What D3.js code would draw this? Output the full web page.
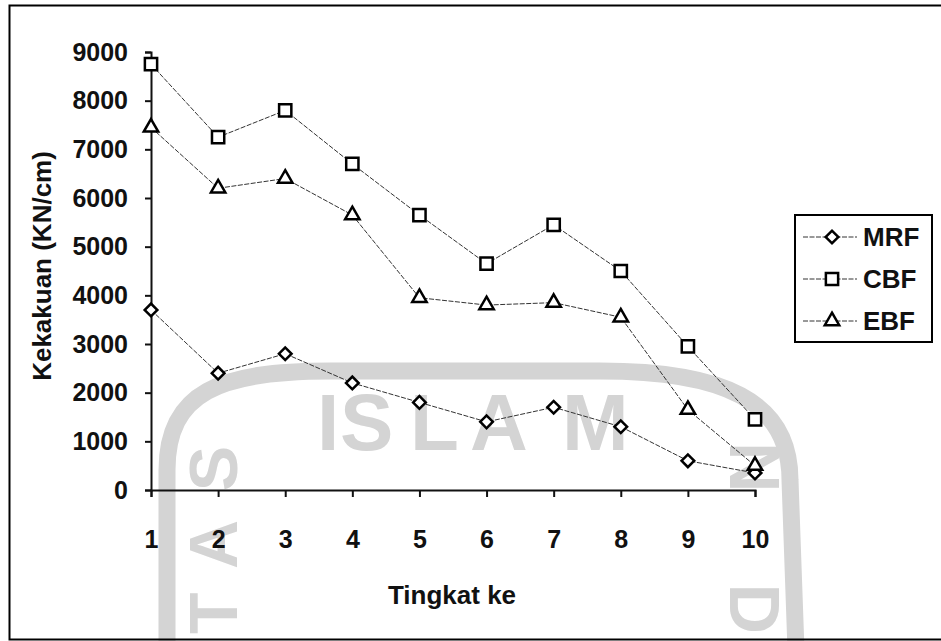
<!DOCTYPE html>
<html>
<head>
<meta charset="utf-8">
<script src="https://cdn.jsdelivr.net/npm/d3@7"></script>
<style>
  html, body { margin: 0; padding: 0; background: #fff; }
  svg { display: block; }
  text { font-family: Arial, "Liberation Sans", sans-serif; font-weight: bold; }
</style>
</head>
<body>
<svg id="chart" width="941" height="641"></svg>
<script>
// ---- data ----
const categories = [1, 2, 3, 4, 5, 6, 7, 8, 9, 10];
const mrf = [3700, 2400, 2800, 2200, 1800, 1400, 1700, 1300, 600, 350];
const cbf = [8750, 7250, 7800, 6700, 5650, 4650, 5450, 4500, 2950, 1450];
const ebf = [7450, 6200, 6400, 5650, 3950, 3800, 3850, 3550, 1650, 500];
const seriesNames = ["MRF", "CBF", "EBF"];
const yTicks = [0, 1000, 2000, 3000, 4000, 5000, 6000, 7000, 8000, 9000];
const xTitle = "Tingkat ke";
const yTitle = "Kekakuan (KN/cm)";

const markerDefs = [
  { type: d3.symbolSquare, size: 80, rotate: 45 },   // diamond
  { type: d3.symbolSquare, size: 150, rotate: 0 },   // square
  { type: d3.symbolTriangle, size: 90, rotate: 0 }   // triangle
];
const series = seriesNames.map((n, i) => ({ name: n, values: [mrf, cbf, ebf][i], marker: markerDefs[i] }));

const svg = d3.select("#chart");
const FONT = "Arial, 'Liberation Sans', sans-serif";

// ---- watermark (faint, background) ----
const wmColor = "#d4d4d4";
const wm = svg.append("g");
wm.append("path")
  .attr("d", "M 167 650 L 167 470 C 167 392, 220 371, 330 371 L 600 371 C 722 371, 790 400, 790 480 L 796 650")
  .attr("fill", "none").attr("stroke", wmColor).attr("stroke-width", 17);
wm.append("text").attr("x", "317 340 410 470 562").attr("y", 450).attr("font-size", 80)
  .attr("fill", wmColor).text("ISLAM");
wm.append("text").attr("font-size", 68).attr("fill", wmColor)
  .attr("transform", "translate(237,634) rotate(-90)")
  .attr("textLength", 188).attr("lengthAdjust", "spacing").text("TAS");
wm.append("text").attr("font-size", 70).attr("fill", wmColor)
  .attr("transform", "translate(730,442) rotate(90)")
  .attr("textLength", 192).attr("lengthAdjust", "spacing").text("ND");

// ---- outer frame ----
svg.append("rect").attr("x", 9.5).attr("y", 5.5).attr("width", 940).attr("height", 634)
  .attr("fill", "none").attr("stroke", "#000").attr("stroke-width", 2);

// ---- scales ----
const x = d3.scalePoint().domain(categories).range([151, 755]);
const y = d3.scaleLinear().domain([0, 9000]).range([490, 52]);

// ---- axes ----
const yAxis = svg.append("g").attr("transform", "translate(151,0)")
  .call(d3.axisLeft(y).tickValues(yTicks).tickFormat(d3.format("d")).tickSize(6).tickPadding(17));
yAxis.select(".domain").attr("stroke", "#111").attr("stroke-width", 2);
yAxis.selectAll(".tick line").attr("stroke", "#111").attr("stroke-width", 2);
yAxis.selectAll(".tick text").attr("font-size", 25).attr("fill", "#111")
  .attr("font-family", FONT).attr("font-weight", "bold");

const xAxis = svg.append("g").attr("transform", "translate(0,490)")
  .call(d3.axisBottom(x).tickSize(7).tickPadding(33));
xAxis.select(".domain").attr("stroke", "#111").attr("stroke-width", 2);
xAxis.selectAll(".tick line").attr("stroke", "#111").attr("stroke-width", 2);
xAxis.selectAll(".tick text").attr("font-size", 25).attr("fill", "#111")
  .attr("font-family", FONT).attr("font-weight", "bold");

// ---- titles ----
svg.append("text").attr("x", 452).attr("y", 604).attr("text-anchor", "middle")
  .attr("font-size", 26).attr("fill", "#111").text(xTitle);
svg.append("text").attr("transform", "translate(51,266) rotate(-90)").attr("text-anchor", "middle")
  .attr("font-size", 26).attr("fill", "#111").text(yTitle);

// ---- lines & markers ----
const line = d3.line().x((d, i) => x(categories[i])).y(d => y(d));
series.forEach(s => {
  svg.append("path").datum(s.values).attr("d", line)
    .attr("fill", "none").attr("stroke", "#333").attr("stroke-width", 1)
    .attr("stroke-dasharray", "5,1.5");
});
series.forEach(s => {
  const m = s.marker;
  const sym = d3.symbol().type(m.type).size(m.size);
  svg.append("g").selectAll("path").data(s.values).join("path")
    .attr("d", sym)
    .attr("transform", (d, i) => `translate(${x(categories[i])},${y(d)}) rotate(${m.rotate})`)
    .attr("fill", "#fff").attr("stroke", "#000").attr("stroke-width", 2.5);
});

// ---- legend ----
const lg = svg.append("g");
lg.append("rect").attr("x", 795).attr("y", 215).attr("width", 137).attr("height", 127)
  .attr("fill", "#fff").attr("stroke", "#000").attr("stroke-width", 2);
series.forEach((s, i) => {
  const cy = 237 + i * 42;
  const m = s.marker;
  lg.append("line").attr("x1", 803).attr("x2", 857).attr("y1", cy).attr("y2", cy)
    .attr("stroke", "#333").attr("stroke-width", 1).attr("stroke-dasharray", "5,1.5");
  lg.append("path").attr("d", d3.symbol().type(m.type).size(m.size))
    .attr("transform", `translate(832,${cy}) rotate(${m.rotate})`)
    .attr("fill", "#fff").attr("stroke", "#000").attr("stroke-width", 2.5);
  lg.append("text").attr("x", 863).attr("y", cy).attr("dy", "0.36em")
    .attr("font-size", 26).attr("fill", "#111").text(s.name);
});
</script>
</body>
</html>
